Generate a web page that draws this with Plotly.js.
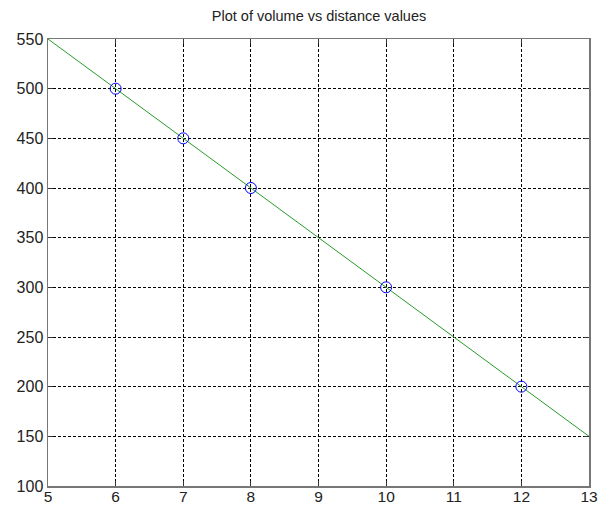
<!DOCTYPE html>
<html><head><meta charset="utf-8">
<script src="https://cdn.plot.ly/plotly-3.0.1.min.js"></script>
<style>html,body{margin:0;padding:0;background:#fff}#plot{width:602px;height:508px}</style>
</head><body><div id="plot"></div>
<script>
const distance = [6, 7, 8, 10, 12];
const volume = [500, 450, 400, 300, 200];
const fitX = [5, 13];
const fitY = [550, 150];
const xTicks = [5, 6, 7, 8, 9, 10, 11, 12, 13];
const yTicks = [100, 150, 200, 250, 300, 350, 400, 450, 500, 550];

const axisCommon = {
  showline: true, mirror: 'ticks', linecolor: '#777', linewidth: 1.5,
  ticks: 'inside', ticklen: 5, tickcolor: '#333',
  showgrid: true, gridcolor: '#000', gridwidth: 1, griddash: '3px,2px',
  zeroline: false, tickfont: {family: 'Liberation Sans, Arial, sans-serif', size: 16, color: '#222'}
};
const data = [
  {x: fitX, y: fitY, mode: 'lines', line: {color: '#2a9a2a', width: 1}, hoverinfo: 'none'},
  {x: distance, y: volume, mode: 'markers',
   marker: {symbol: 'circle-open', size: 11, color: '#0000ff', line: {width: 1, color: '#0000ff'}}}
];
const layout = {
  width: 602, height: 508, showlegend: false,
  paper_bgcolor: '#fff', plot_bgcolor: '#fff',
  margin: {l: 48, r: 13, t: 39, b: 22},
  title: {text: 'Plot of volume vs distance values', x: 0.53, xanchor: 'center', y: 0.968, yanchor: 'middle',
    font: {family: 'Liberation Sans, Arial, sans-serif', size: 14.5, color: '#222'}},
  xaxis: Object.assign({}, axisCommon, {range: [5, 13], tickvals: xTicks, ticktext: xTicks.map(String),
    ticklabelstandoff: -4, tickfont: {family: 'Liberation Sans, Arial, sans-serif', size: 15.5, color: '#222'}}),
  yaxis: Object.assign({}, axisCommon, {range: [100, 550], tickvals: yTicks, ticktext: yTicks.map(String)})
};
Plotly.newPlot('plot', data, layout, {displayModeBar: false, staticPlot: true});
</script></body></html>
